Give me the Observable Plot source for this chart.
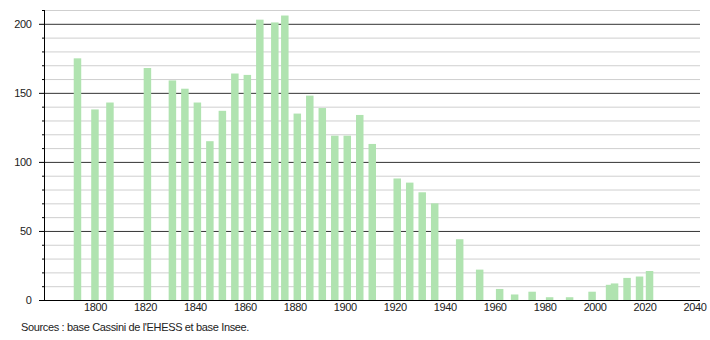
<!DOCTYPE html>
<html>
<head>
<meta charset="utf-8">
<script src="https://cdn.jsdelivr.net/npm/d3@7"></script>
<script src="https://cdn.jsdelivr.net/npm/@observablehq/plot@0.6"></script>
<style>
  html, body { margin: 0; padding: 0; background: #fff; }
  #chart svg { display: block; }
  #chart svg text { letter-spacing: -0.4px; }
  #caption { font: 11px "Liberation Sans", Arial, sans-serif; letter-spacing: -0.35px; color: #222; padding-left: 21px; margin-top: 2px; line-height: 14px; }
</style>
</head>
<body>
<div id="chart"></div>
<div id="caption">Sources : base Cassini de l'EHESS et base Insee.</div>
<script>
const years = [1793,1800,1806,1821,1831,1836,1841,1846,1851,1856,1861,1866,1872,1876,1881,1886,1891,1896,1901,1906,1911,1921,1926,1931,1936,1946,1954,1962,1968,1975,1982,1990,1999,2006,2008,2013,2018,2022];
const population = [175,138,143,168,159,153,143,115,137,164,163,203,201,206,135,148,139,119,119,134,113,88,85,78,70,44,22,8,4,6,2,2,6,11,12,16,17,21];
const xTicks = [1800,1820,1840,1860,1880,1900,1920,1940,1960,1980,2000,2020,2040];
const yMajorTicks = [0,50,100,150,200];
const yMinorTicks = [10,20,30,40,60,70,80,90,110,120,130,140,160,170,180,190,210];
const xDomain = [1779.6, 2042.2];
const yDomain = [0, 210];

const data = years.map((year, i) => ({year, pop: population[i]}));
const barHalf = 1.5;

const chart = Plot.plot({
  width: 710,
  height: 318,
  marginLeft: 44,
  marginRight: 10,
  marginTop: 10,
  marginBottom: 18,
  style: {fontFamily: "'Liberation Sans', Arial, sans-serif", fontSize: "11px", color: "#222", background: "#fff"},
  x: {domain: xDomain, axis: null},
  y: {domain: yDomain, axis: null},
  marks: [
    Plot.ruleY(yMinorTicks, {stroke: "#cfcfcf", strokeWidth: 1}),
    Plot.ruleY(yMajorTicks.filter(d => d > 0), {stroke: "#333", strokeWidth: 1}),
    Plot.rectY(data, {x1: d => d.year - barHalf, x2: d => d.year + barHalf, y: "pop", fill: "#b0e3b0"}),
    Plot.ruleY([0], {stroke: "#000", strokeWidth: 1}),
    Plot.ruleX([xDomain[0]], {y1: yDomain[0], y2: yDomain[1], stroke: "#000", strokeWidth: 1}),
    Plot.axisY(yMinorTicks, {tickSize: 2, tickFormat: () => "", label: null, stroke: "#000"}),
    Plot.axisY(yMajorTicks, {tickSize: 5, tickPadding: 8, label: null, stroke: "#000", fill: "#222", tickFormat: d => String(d)}),
    Plot.axisX(xTicks, {tickSize: 0, tickPadding: 3, label: null, fill: "#222", tickFormat: d => String(d)})
  ]
});
document.getElementById("chart").appendChild(chart);
</script>
</body>
</html>
